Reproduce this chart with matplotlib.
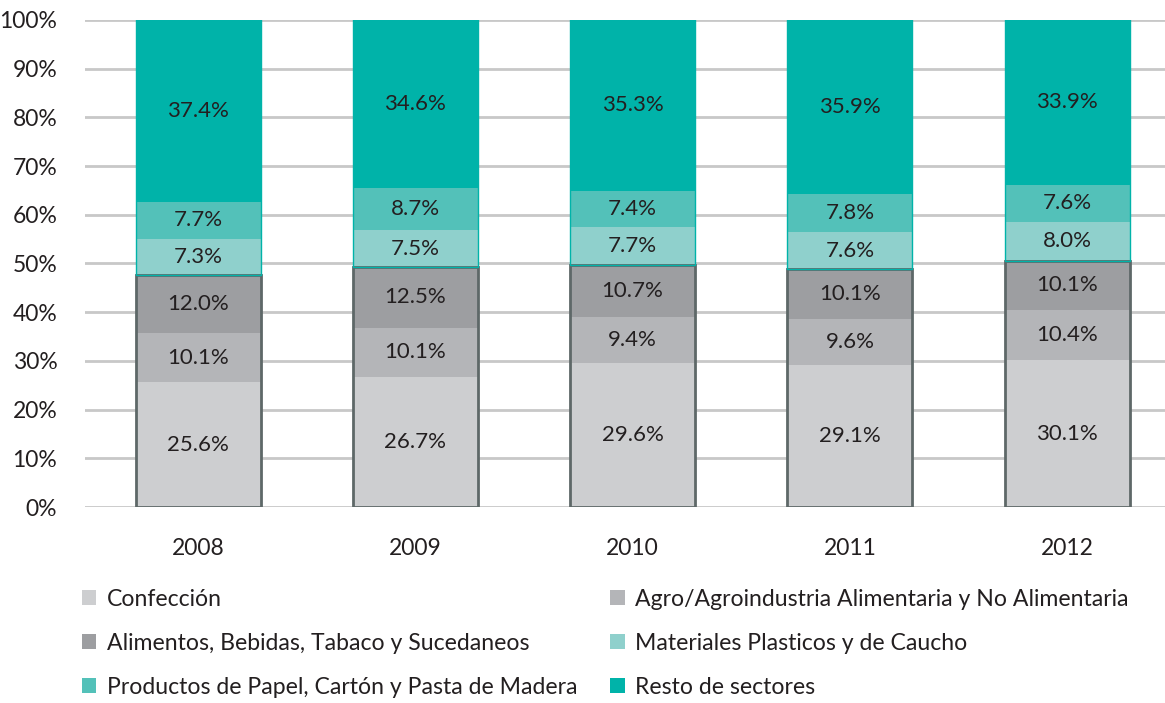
import matplotlib.pyplot as plt
import numpy as np
from matplotlib.patches import Patch

# data (share of each sector, %)
years = ["2008", "2009", "2010", "2011", "2012"]
sectors = [
    "Confección",
    "Agro/Agroindustria Alimentaria y No Alimentaria",
    "Alimentos, Bebidas, Tabaco y Sucedaneos",
    "Materiales Plasticos y de Caucho",
    "Productos de Papel, Cartón y Pasta de Madera",
    "Resto de sectores",
]
confeccion = [25.6, 26.7, 29.6, 29.1, 30.1]
agro = [10.1, 10.1, 9.4, 9.6, 10.4]
alimentos = [12.0, 12.5, 10.7, 10.1, 10.1]
plasticos = [7.3, 7.5, 7.7, 7.6, 8.0]
papel = [7.7, 8.7, 7.4, 7.8, 7.6]
resto = [37.4, 34.6, 35.3, 35.9, 33.9]

colors = ["#cdced0", "#b4b5b8", "#9d9ea1", "#8fd0cc", "#53c1b9", "#00b3a9"]
txt = "#231f20"
font = "Lato"

series = [confeccion, agro, alimentos, plasticos, papel, resto]

fig = plt.figure(figsize=(11.65, 7.03), dpi=100)
ax = fig.add_axes([0.073, 0.2788, 0.927, 0.6928])

x = np.arange(len(years))
width = 0.575
bottom = np.zeros(len(years))
for vals, col in zip(series, colors):
    vals = np.array(vals)
    ax.bar(x, vals, width, bottom=bottom, color=col, zorder=2)
    for xi, b, v in zip(x, bottom, vals):
        ax.text(xi, b + v / 2, f"{v:.1f}%", ha="center", va="center",
                fontsize=16, color=txt, family=font, zorder=4)
    bottom = bottom + vals

# outlines around the grey group and the teal group
low = np.array(confeccion) + np.array(agro) + np.array(alimentos)
high = np.array(plasticos) + np.array(papel) + np.array(resto)
ax.bar(x, low, width, fill=False, edgecolor="#5e6868", linewidth=2, zorder=3)
ax.bar(x, high, width, bottom=low, fill=False, edgecolor="#00b3a9",
       linewidth=1, zorder=3)

ax.set_xlim(-0.52, 4.45)
ax.set_ylim(0, 100)
ax.set_yticks(np.arange(0, 101, 10))
ax.set_yticklabels([f"{v}%" for v in range(0, 101, 10)])
ax.set_xticks(x)
ax.set_xticklabels(years)
ax.yaxis.grid(True, color="#c8c8c8", linewidth=2)
ax.set_axisbelow(True)
for s in ax.spines.values():
    s.set_visible(False)
ax.tick_params(length=0, labelsize=16.5, labelcolor=txt)
ax.tick_params(axis="y", pad=20)
ax.tick_params(axis="x", pad=22)
for lab in ax.get_xticklabels() + ax.get_yticklabels():
    lab.set_family(font)

handles = [Patch(facecolor=c, edgecolor="none") for c in colors]
leg_kw = dict(frameon=False, loc="upper left", handlelength=0.62,
              handleheight=0.62, handletextpad=0.45, labelspacing=1.0,
              prop={"family": font, "size": 16.6}, labelcolor=txt)
fig.legend([handles[0], handles[2], handles[4]],
           [sectors[0], sectors[2], sectors[4]],
           bbox_to_anchor=(0.0525, 0.192), **leg_kw)
fig.legend([handles[1], handles[3], handles[5]],
           [sectors[1], sectors[3], sectors[5]],
           bbox_to_anchor=(0.506, 0.192), **leg_kw)

fig.savefig("out.png", dpi=100)
